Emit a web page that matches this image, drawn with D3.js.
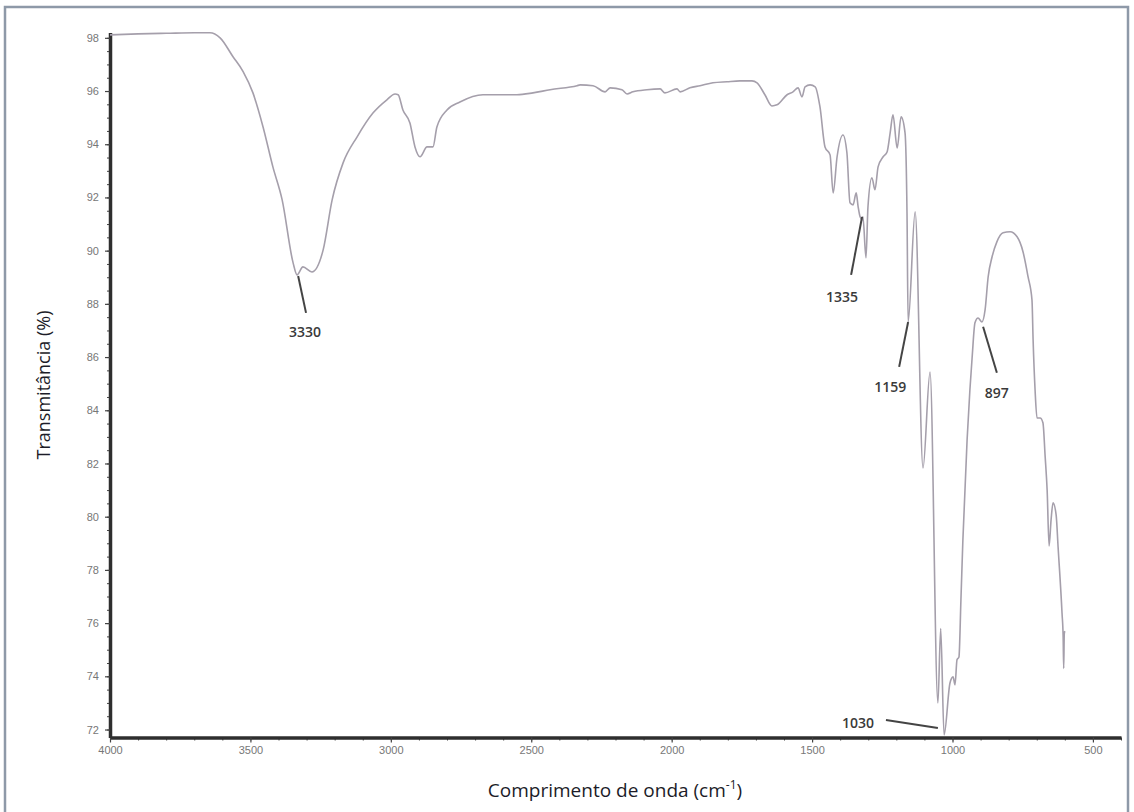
<!DOCTYPE html>
<html>
<head>
<meta charset="utf-8">
<script src="https://cdn.jsdelivr.net/npm/d3@7"></script>
<style>
	body { margin: 0; background: #fff; }
	svg { display: block; }
</style>
</head>
<body>
<svg id="svg" width="1134" height="812"></svg>
<script>

// spectrum, wavenumber (cm-1) and transmittance (%)
var wavenumber = [
	4000, 3900, 3800, 3700, 3644, 3608, 3562, 3526, 3491, 3455, 3420, 3387, 3348, 3334, 3313, 3281,
	3241, 3209, 3170, 3120, 3063, 3014, 2985, 2974, 2957, 2932, 2914, 2896, 2871, 2850, 2836, 2800,
	2754, 2672, 2551, 2494, 2433, 2337, 2326, 2280, 2237, 2219, 2177, 2159, 2138, 2088, 2041, 2024,
	1981, 1970, 1935, 1899, 1853, 1803, 1757, 1714, 1696, 1668, 1643, 1625, 1589, 1568, 1550, 1536,
	1525, 1507, 1489, 1472, 1454, 1436, 1425, 1411, 1390, 1376, 1365, 1354, 1343, 1336, 1329, 1322,
	1319, 1308, 1301, 1287, 1276, 1265, 1247, 1233, 1222, 1212, 1197, 1183, 1169, 1162, 1158, 1133,
	1105, 1080, 1052, 1042, 1030, 1009, 998, 991, 984, 977, 970, 963, 948, 938, 930, 920,
	909, 895, 884, 873, 859, 842, 820, 795, 770, 749, 731, 717, 713, 706, 699, 688,
	678, 670, 663, 656, 649, 642, 631, 624, 610, 606, 604, 602, 600
];
var transmittance = [
	98.11, 98.15, 98.17, 98.19, 98.19, 98.0, 97.29, 96.73, 95.93, 94.65, 93.15, 91.91, 89.54, 89.09, 89.39, 89.2,
	90.03, 91.91, 93.30, 94.28, 95.18, 95.67, 95.89, 95.86, 95.29, 94.80, 93.90, 93.53, 93.90, 93.90, 94.65, 95.29,
	95.59, 95.86, 95.86, 95.93, 96.05, 96.2, 96.23, 96.20, 95.97, 96.12, 96.05, 95.89, 95.97, 96.05, 96.08, 95.93,
	96.08, 95.97, 96.12, 96.20, 96.31, 96.35, 96.38, 96.38, 96.31, 95.86, 95.44, 95.48, 95.86, 95.97, 96.12, 95.78,
	96.16, 96.23, 96.16, 95.41, 93.90, 93.60, 92.17, 93.53, 94.35, 93.68, 91.80, 91.72, 92.17, 91.65, 91.27, 91.16,
	91.27, 89.73, 91.65, 92.74, 92.29, 93.15, 93.53, 93.71, 94.43, 95.11, 93.86, 95.03, 94.43, 91.42, 87.32, 91.46,
	81.83, 85.44, 73.0, 75.8, 71.8, 73.75, 73.98, 73.68, 74.62, 74.73, 76.87, 79.13, 82.89, 84.77, 86.0, 87.29,
	87.47, 87.32, 87.77, 89.02, 89.77, 90.33, 90.67, 90.71, 90.52, 89.96, 89.02, 88.15, 86.65, 84.77, 83.71, 83.71,
	83.53, 82.25, 81.0, 78.9, 79.88, 80.52, 80.07, 78.86, 76.38, 75.48, 74.3, 75.6, 75.7
];

var xTicks = [4000, 3500, 3000, 2500, 2000, 1500, 1000, 500];
var yTicks = [72, 74, 76, 78, 80, 82, 84, 86, 88, 90, 92, 94, 96, 98];

// labelled bands: line from (wn, t) to (wnEnd, tEnd), label at (wnLabel, tLabel)
var peakLabels = ["3330", "1335", "1159", "897", "1030"];
var peakWn     = [3330, 1322, 1158, 891, 1052];
var peakT      = [89.05, 91.27, 87.32, 87.14, 72.06];
var peakWnEnd  = [3302, 1361, 1190, 842, 1237];
var peakTEnd   = [87.66, 89.09, 85.63, 85.41, 72.36];
var labelWn    = [3306, 1393, 1222, 842, 1336];
var labelT     = [86.76, 88.08, 84.69, 84.47, 72.06];

var svg = d3.select("svg");

var x = d3.scaleLinear().domain([4000, 400]).range([110, 1121]);
var y = d3.scaleLinear().domain([71.7, 98.2]).range([737.5, 32.5]);

// outer frame
svg.append("rect")
	.attr("x", 5).attr("y", 7)
	.attr("width", 1123).attr("height", 830)
	.style("fill", "none")
	.style("stroke", "#8e99a8")
	.style("stroke-width", 2.5);

// minor ticks
var xMinor = d3.range(4000, 399, -100);
var yMinor = d3.range(72, 98.01, 0.5);

svg.append("g")
	.attr("transform", "translate(0,737.5)")
	.call(d3.axisBottom(x).tickValues(xMinor).tickSize(3).tickSizeOuter(0).tickFormat(""))
	.call(function (g) { g.select(".domain").remove(); })
	.selectAll("line").style("stroke", "#444");

svg.append("g")
	.attr("transform", "translate(110,0)")
	.call(d3.axisLeft(y).tickValues(yMinor).tickSize(3).tickSizeOuter(0).tickFormat(""))
	.call(function (g) { g.select(".domain").remove(); })
	.selectAll("line").style("stroke", "#444");

// major axes
var xAxis = svg.append("g")
	.attr("transform", "translate(0,737.5)")
	.call(d3.axisBottom(x).tickValues(xTicks).tickSize(5).tickPadding(4).tickSizeOuter(0).tickFormat(d3.format("d")));

var yAxis = svg.append("g")
	.attr("transform", "translate(110,0)")
	.call(d3.axisLeft(y).tickValues(yTicks).tickSize(5).tickPadding(6).tickSizeOuter(0).tickFormat(d3.format("d")));

[xAxis, yAxis].forEach(function (g) {
	g.select(".domain").style("stroke", "#2e2e2e").style("stroke-width", 3.5);
	g.selectAll(".tick line").style("stroke", "#444").style("stroke-width", 1.2);
	g.selectAll("text")
		.style("font-family", "Liberation Sans, Arial, sans-serif")
		.style("font-size", "11px")
		.style("fill", "#777");
});

// spectrum
var points = wavenumber.map(function (w, i) { return [w, transmittance[i]]; });

var line = d3.line()
	.x(function (d) { return x(d[0]); })
	.y(function (d) { return y(d[1]); })
	.curve(d3.curveMonotoneX);

svg.append("path")
	.datum(points)
	.attr("d", line)
	.style("fill", "none")
	.style("stroke", "#a59fab")
	.style("stroke-width", 1.6);

// band labels
var ann = svg.append("g");
peakLabels.forEach(function (lab, i) {
	ann.append("line")
		.attr("x1", x(peakWn[i])).attr("y1", y(peakT[i]))
		.attr("x2", x(peakWnEnd[i])).attr("y2", y(peakTEnd[i]))
		.style("stroke", "#444")
		.style("stroke-width", 2);
	ann.append("text")
		.attr("x", x(labelWn[i]))
		.attr("y", y(labelT[i]))
		.attr("text-anchor", "middle")
		.style("font-family", "Open Sans, sans-serif")
		.style("font-size", "14px")
		.style("font-weight", 600)
		.style("fill", "#3a3a3a")
		.text(lab);
});

// axis titles
var xt = svg.append("text")
	.attr("x", 615)
	.attr("y", 797)
	.attr("text-anchor", "middle")
	.style("font-family", "Open Sans, sans-serif")
	.style("font-size", "19px")
	.style("fill", "#1c1c28");
xt.append("tspan").text("Comprimento de onda (cm");
xt.append("tspan").attr("dy", -8).style("font-size", "12px").text("-1");
xt.append("tspan").attr("dy", 8).text(")");

svg.append("text")
	.attr("transform", "translate(50,385) rotate(-90)")
	.attr("text-anchor", "middle")
	.style("font-family", "Open Sans, sans-serif")
	.style("font-size", "18px")
	.style("fill", "#1c1c28")
	.text("Transmitância (%)");

</script>
</body>
</html>
